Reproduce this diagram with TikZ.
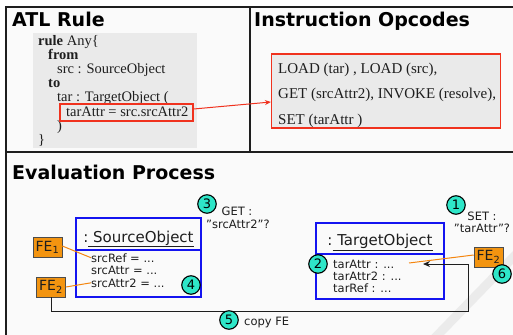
\documentclass[tikz,border=0pt]{standalone}
\usepackage{fontspec}
\setmainfont{Liberation Serif}
\setsansfont{DejaVu Sans}
\usetikzlibrary{arrows.meta}

\definecolor{framec}{HTML}{1E1E1E}
\definecolor{panelc}{HTML}{FAFAFA}
\definecolor{codebg}{HTML}{EAEAEA}
\definecolor{hlred}{HTML}{F0321E}
\definecolor{objblue}{HTML}{1414F0}
\definecolor{feorange}{HTML}{F39410}
\definecolor{stepc}{HTML}{2EE6C8}
\definecolor{inkc}{HTML}{1E1E1E}

\newcommand{\dq}{{\char34}}

\tikzset{
  frameline/.style={line width=2pt, draw=framec},
  head/.style={font=\sffamily\bfseries\fontsize{19}{22}\selectfont, anchor=base west, inner sep=0pt, text=black},
  codeline/.style={font=\fontsize{14.5}{16}\selectfont, anchor=base west, inner sep=0pt, text=inkc},
  opline/.style={font=\fontsize{15}{17}\selectfont, anchor=base west, inner sep=0pt, text=inkc},
  redbox/.style={draw=hlred, line width=1.2pt, inner sep=0pt},
  objbox/.style={draw=objblue, line width=2pt, inner sep=0pt},
  objtitle/.style={font=\sffamily\fontsize{15}{17}\selectfont, anchor=base, inner sep=0pt, text=inkc},
  attr/.style={font=\sffamily\fontsize{11.5}{13}\selectfont, anchor=base west, inner sep=0pt, text=inkc},
  febox/.style={draw=black!70, fill=feorange, line width=0.6pt, inner sep=0pt,
    minimum width=29pt, minimum height=20pt, font=\sffamily\fontsize{14}{16}\selectfont, text=inkc},
  stepnum/.style={circle, draw=black, line width=1.1pt, fill=stepc, inner sep=0pt,
    minimum size=18.5pt, font=\sffamily\fontsize{13}{15}\selectfont},
  note/.style={font=\sffamily\fontsize{11.5}{13}\selectfont, align=center, inner sep=0pt, text=inkc},
  feline/.style={draw=feorange!90!red, line width=1pt},
  flowline/.style={draw=inkc, line width=1pt, -{Stealth[length=7pt,width=6pt]}},
}

\begin{document}
\begin{tikzpicture}[x=1pt,y=-1pt]
  \clip (0,0) rectangle (513,334);
  \fill[white] (0,0) rectangle (513,334);
  \fill[panelc] (6,7) rectangle (520,340);

  % faint diagonal band in the lower right corner
  \draw[line width=9pt, black!8] (528,242) -- (428,345);

  % panel frame
  \draw[frameline] (6,340) -- (6,7) -- (520,7);
  \draw[frameline] (6,152) -- (520,152);
  \draw[frameline] (250,7) -- (250,152);

  % headings
  \node[head] (hatl) at (12,27) {ATL Rule};
  \node[head] (hops) at (254,27) {Instruction Opcodes};
  \node[head] (heval) at (12,179.5) {Evaluation Process};

  % ATL rule listing
  \fill[codebg] (33,33) rectangle (197,148);
  \node[codeline] (c1) at (38,45.5) {\textbf{rule} Any\{};
  \node[codeline] (c2) at (48,59.6) {\textbf{from}};
  \node[codeline] (c3) at (57,73.7) {src : SourceObject};
  \node[codeline] (c4) at (48,87.8) {\textbf{to}};
  \node[codeline] (c5) at (57,101.9) {tar : TargetObject (};
  \node[codeline] (c6) at (66,116) {tarAttr = src.srcAttr2};
  \node[codeline] (c7) at (57,130.1) {)};
  \node[codeline] (c8) at (38,144.2) {\}};
  \node[redbox, minimum width=133pt, minimum height=17pt] (hl) at (126.5,112.5) {};

  % compiled opcodes
  \node[redbox, fill=codebg, minimum width=229pt, minimum height=74pt] (ops) at (386,91) {};
  \node[opline] (o1) at (278,74) {LOAD (tar) , LOAD (src),};
  \node[opline] (o2) at (278,99) {GET (srcAttr2), INVOKE (resolve),};
  \node[opline] (o3) at (278,124) {SET (tarAttr )};

  \draw[hlred, line width=1pt, -{Stealth[length=6pt,width=5pt]}]
    ([yshift=3.5pt]hl.east) -- ([yshift=-11pt]ops.west);

  % source object
  \node[objbox, minimum width=125pt, minimum height=79pt] (srcobj) at (138.5,257.5) {};
  \draw[objblue, line width=2pt] (srcobj.west |- 0,250) -- (srcobj.east |- 0,250);
  \node[objtitle] (srct) at (138.5,242) {:\underline{ SourceObject}};
  \node[attr] (sa1) at (91,262) {srcRef = ...};
  \node[attr] (sa2) at (91,274.5) {srcAttr = ...};
  \node[attr] (sa3) at (91,287) {srcAttr2 = ...};

  % target object
  \node[objbox, minimum width=128pt, minimum height=76pt] (tarobj) at (380,261) {};
  \draw[objblue, line width=2pt] (tarobj.west |- 0,254) -- (tarobj.east |- 0,254);
  \node[objtitle] (tart) at (380,245.5) {:\underline{ TargetObject}};
  \node[attr] (ta1) at (333,268.5) {tarAttr : ...};
  \node[attr] (ta2) at (333,280.5) {tarAttr2 : ...};
  \node[attr] (ta3) at (333,292.5) {tarRef : ...};

  % feature entries
  \node[febox] (fe1) at (47.5,247) {FE\textsubscript{1}};
  \node[febox] (fe2) at (51,287) {FE\textsubscript{2}};
  \node[febox] (fe2t) at (488.5,257) {FE\textsubscript{2}};

  \coordinate (slot) at (409,263);
  \coordinate (copyturn) at (468,311);
  \coordinate (copytip) at (423,264);

  \draw[feline] (fe1.east |- 0,246) -- (sa1.west);
  \draw[feline] (fe2.east) -- (sa3.west);
  \draw[feline] (fe2t.west |- 0,255) -- (slot);

  \draw[flowline] (fe2.south) |- (copyturn) |- (copytip);

  % step markers and notes
  \node[stepnum] (s1) at (456,205) {1};
  \node[stepnum] (s2) at (318,264) {2};
  \node[stepnum] (s3) at (207,204) {3};
  \node[stepnum] (s4) at (191,285) {4};
  \node[stepnum] (s5) at (229,320) {5};
  \node[stepnum] (s6) at (502,274) {6};

  \node[note, anchor=base] (n3a) at (237,215.5) {GET :};
  \node[note, anchor=base] (n3b) at (238,228) {\dq srcAttr2\dq ?};
  \node[note, anchor=base] (n1a) at (482,220.5) {SET :};
  \node[note, anchor=base] (n1b) at (482,232.5) {\dq tarAttr\dq ?};
  \node[note, anchor=base west] (n5) at (244,325) {copy FE};
\end{tikzpicture}
\end{document}
